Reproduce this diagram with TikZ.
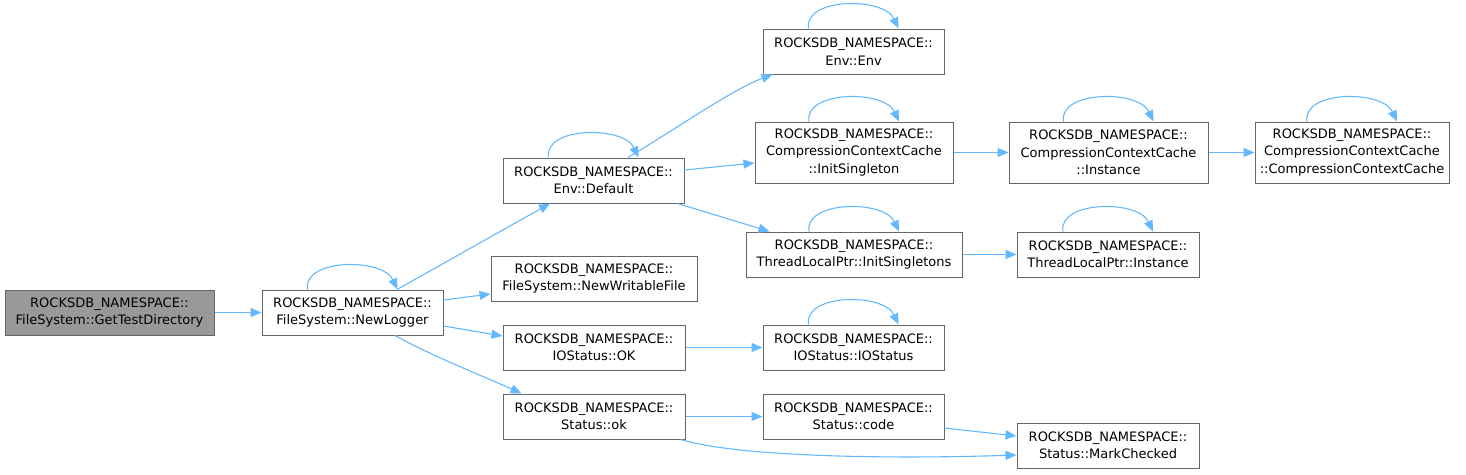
\documentclass[tikz,border=0pt]{standalone}
\usepackage{fontspec}
\setmainfont{DejaVu Sans}
\usetikzlibrary{arrows.meta}
\definecolor{edgecol}{HTML}{63B8FF}
\definecolor{boxcol}{HTML}{666666}
\definecolor{hicol}{HTML}{999999}
\tikzset{
  fn/.style={draw=boxcol, line width=1pt, fill=white, inner sep=0pt, align=center,
    font=\fontsize{13}{17.5}\selectfont, text=black},
  hi/.style={fn, fill=hicol},
  edge/.style={draw=edgecol, line width=1.1pt, -{Triangle[length=11pt,width=9pt]}},
}
\newcommand{\selfloop}[1]{\draw[edge] ([xshift=-45pt]#1.north) .. controls +(-5pt,31pt) and +(-15pt,32pt) .. ([xshift=45pt]#1.north);}
\begin{document}
\begin{tikzpicture}[x=1pt,y=1pt]
\useasboundingbox (0,0) rectangle (1466,-474);
\node[hi, minimum width=209pt, minimum height=45pt] (gtd) at (109.5,-312.5) {ROCKSDB\_NAMESPACE::\\FileSystem::GetTestDirectory};
\node[fn, minimum width=181pt, minimum height=45pt] (nl) at (352.5,-312.5) {ROCKSDB\_NAMESPACE::\\FileSystem::NewLogger};
\node[fn, minimum width=181pt, minimum height=45pt] (ed) at (593.5,-180.5) {ROCKSDB\_NAMESPACE::\\Env::Default};
\node[fn, minimum width=206pt, minimum height=45pt] (nwf) at (594,-278.5) {ROCKSDB\_NAMESPACE::\\FileSystem::NewWritableFile};
\node[fn, minimum width=182pt, minimum height=45pt] (iook) at (594,-347.5) {ROCKSDB\_NAMESPACE::\\IOStatus::OK};
\node[fn, minimum width=182pt, minimum height=45pt] (sok) at (594,-416.5) {ROCKSDB\_NAMESPACE::\\Status::ok};
\node[fn, minimum width=181pt, minimum height=45pt] (ee) at (853.5,-51.5) {ROCKSDB\_NAMESPACE::\\Env::Env};
\node[fn, minimum width=198pt, minimum height=61pt] (cis) at (854,-152.5) {ROCKSDB\_NAMESPACE::\\CompressionContextCache\\::InitSingleton};
\node[fn, minimum width=216pt, minimum height=45pt] (tis) at (854,-254.5) {ROCKSDB\_NAMESPACE::\\ThreadLocalPtr::InitSingletons};
\node[fn, minimum width=181pt, minimum height=45pt] (ios) at (853.5,-347.5) {ROCKSDB\_NAMESPACE::\\IOStatus::IOStatus};
\node[fn, minimum width=181pt, minimum height=45pt] (scode) at (853.5,-416.5) {ROCKSDB\_NAMESPACE::\\Status::code};
\node[fn, minimum width=199pt, minimum height=61pt] (cci) at (1108.5,-152.5) {ROCKSDB\_NAMESPACE::\\CompressionContextCache\\::Instance};
\node[fn, minimum width=194pt, minimum height=61pt] (ccc) at (1352,-152.5) {ROCKSDB\_NAMESPACE::\\CompressionContextCache\\::CompressionContextCache};
\node[fn, minimum width=182pt, minimum height=45pt] (tli) at (1108,-254.5) {ROCKSDB\_NAMESPACE::\\ThreadLocalPtr::Instance};
\node[fn, minimum width=182pt, minimum height=45pt] (smc) at (1108,-445.5) {ROCKSDB\_NAMESPACE::\\Status::MarkChecked};
% self loops
\selfloop{nl}
\selfloop{ed}
\selfloop{ee}
\selfloop{cis}
\selfloop{tis}
\selfloop{ios}
\selfloop{cci}
\selfloop{ccc}
\selfloop{tli}
% edges
\draw[edge] (gtd.east) -- (nl.west);
\draw[edge] ([xshift=44.5pt]nl.north) -- ([xshift=-43.5pt]ed.south);
\draw[edge] ([yshift=12.5pt]nl.east) -- ([yshift=-15.5pt]nwf.west);
\draw[edge] ([yshift=-13.5pt]nl.east) -- ([yshift=11.5pt]iook.west);
\draw[edge] ([xshift=42.5pt]nl.south) .. controls +(40pt,-22pt) and +(-35pt,16pt) .. ([xshift=19pt]sok.north west);
\draw[edge] ([xshift=34.5pt]ed.north) .. controls +(50pt,30pt) and +(-40pt,-15pt) .. ([xshift=10pt]ee.south west);
\draw[edge] ([yshift=10.5pt]ed.east) -- ([yshift=-10.5pt]cis.west);
\draw[edge] ([xshift=-7pt]ed.south east) -- ([xshift=24pt]tis.north west);
\draw[edge] (cis.east) -- (cci.west);
\draw[edge] (cci.east) -- (ccc.west);
\draw[edge] (tis.east) -- (tli.west);
\draw[edge] (iook.east) -- (ios.west);
\draw[edge] (sok.east) -- (scode.west);
\draw[edge] ([yshift=-11.5pt]scode.east) -- ([yshift=9.5pt]smc.west);
\draw[edge] ([xshift=-5pt]sok.south east) .. controls +(60pt,-18pt) and +(-120pt,-4pt) .. ([yshift=-9.5pt]smc.west);
\end{tikzpicture}
\end{document}
